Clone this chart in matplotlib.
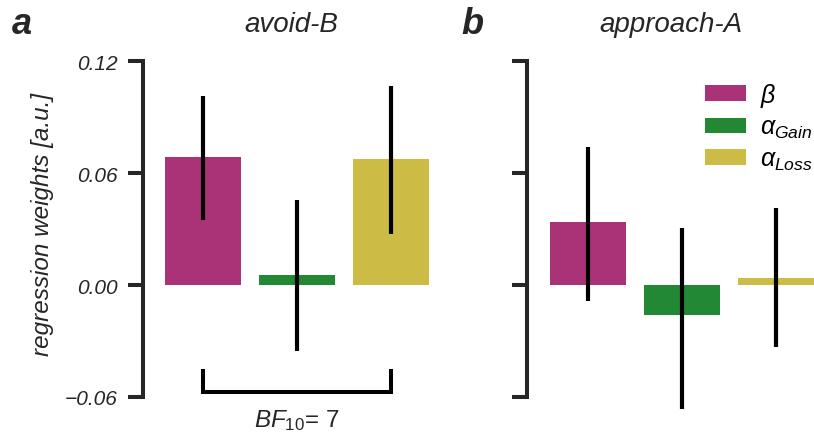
import matplotlib
matplotlib.use("Agg")
import matplotlib.pyplot as plt
import numpy as np

plt.rcParams['font.family'] = ['Liberation Sans', 'DejaVu Sans']
plt.rcParams['mathtext.fontset'] = 'custom'
plt.rcParams['mathtext.rm'] = 'Liberation Sans'
plt.rcParams['mathtext.it'] = 'Liberation Sans:italic'
plt.rcParams['mathtext.bf'] = 'Liberation Sans:bold'

# data
params = [r'$\beta$', r'$\alpha_{Gain}$', r'$\alpha_{Loss}$']
colors = ['#AA3377', '#228833', '#CCBB44']

avoid_mean = [0.0686, 0.0054, 0.0675]
avoid_lo = [0.035, -0.0355, 0.0273]
avoid_hi = [0.101, 0.0454, 0.1064]

approach_mean = [0.0338, -0.0159, 0.0038]
approach_lo = [-0.0084, -0.0663, -0.033]
approach_hi = [0.0739, 0.0305, 0.0413]

titles = ['avoid-B', 'approach-A']
letters = ['a', 'b']
yticks = [-0.06, 0.0, 0.06, 0.12]
bf_label = r'$BF_{10}$= 7'

W, H = 814, 439
fig = plt.figure(figsize=(W / 100, H / 100), dpi=100)

dark = '#262626'
x = np.arange(3)

def make_axes(left_px, right_px):
    return fig.add_axes([left_px / W, (H - 398) / H, (right_px - left_px) / W, 336 / H])

ax1 = make_axes(143, 440)
ax2 = make_axes(527, 814)

for i, (ax, mean, lo, hi) in enumerate([(ax1, avoid_mean, avoid_lo, avoid_hi),
                                         (ax2, approach_mean, approach_lo, approach_hi)]):
    bars = ax.bar(x, mean, width=0.81, color=colors)
    for b, lab in zip(bars, params):
        b.set_label(lab)
    # error bars run past the axis limits in the original, so no clipping
    ax.vlines(x, lo, hi, colors='black', linewidth=3, clip_on=False)
    ax.set_ylim(-0.06, 0.12)
    ax.set_yticks(yticks)
    for s in ['top', 'right', 'bottom']:
        ax.spines[s].set_visible(False)
    ax.spines['left'].set_linewidth(2.9)
    ax.spines['left'].set_color(dark)
    ax.tick_params(axis='y', length=11, width=2.9, color=dark, pad=7,
                   labelsize=15, labelcolor=dark)
    ax.set_xticks([])
    for t in ax.get_yticklabels():
        t.set_fontstyle('italic')
    ax.set_title(titles[i], fontstyle='italic', fontsize=20, color=dark, pad=21.5)

ax1.set_xlim(-0.638, 2.52)
ax2.set_xlim(-0.649, 2.404)
ax1.yaxis.set_major_formatter(matplotlib.ticker.FuncFormatter(
    lambda v, p: ('\u2212' if v < -1e-9 else '') + '%.2f' % abs(v)))
ax2.set_yticklabels([])

fig.text(43 / W, 1 - 224 / H, 'regression weights [a.u.]', rotation=90,
         ha='center', va='center', fontstyle='italic', fontsize=17.5, color=dark)

# bracket with Bayes factor
ax1.plot([0, 0, 2, 2], [-0.046, -0.0573, -0.0573, -0.046], color='black', lw=2.9,
         clip_on=False, solid_joinstyle='miter')
ax1.text(1, -0.0757, bf_label, ha='center', va='baseline', fontsize=17.5,
         color=dark, clip_on=False)

fig.text(12 / W, 1 - 34 / H, letters[0], fontsize=26, fontweight='bold',
         fontstyle='italic', color=dark, va='baseline')
fig.text(461 / W, 1 - 34 / H, letters[1], fontsize=26, fontweight='bold',
         fontstyle='italic', color=dark, va='baseline')

ax2.legend(loc='upper left', bbox_to_anchor=(705 / W, 1 - 82 / H),
           bbox_transform=fig.transFigure, frameon=False, borderpad=0,
           borderaxespad=0, handlelength=1.64, handleheight=0.6,
           handletextpad=0.55, labelspacing=0.25, prop={'size': 18})

fig.savefig('out.png', dpi=100)
